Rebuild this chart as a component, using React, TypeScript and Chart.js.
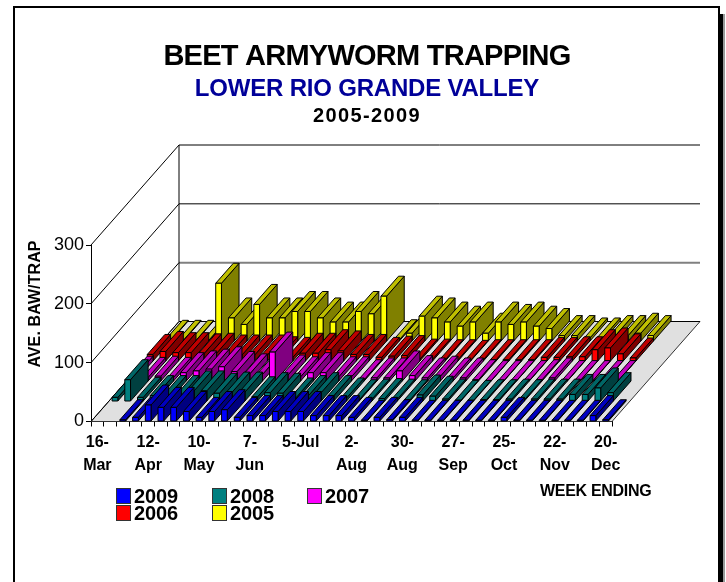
import React, { useEffect, useRef } from "react";
import { Chart, registerables } from "chart.js";

Chart.register(...registerables);

const FONT = '"Liberation Sans", Arial, sans-serif';

const tickLabels = ["16-Mar", "12-Apr", "10-May", "7-Jun", "5-Jul", "2-Aug", "30-Aug", "27-Sep", "25-Oct", "22-Nov", "20-Dec"];
const weekCount = 41;
const categories = Array.from({ length: weekCount }, (_, i) => (i % 4 === 0 ? tickLabels[i / 4] : ""));

const years = ["2009", "2008", "2007", "2006", "2005"];
const v2009 = [null, null, 3, 7, 28, 24, 24, 17, 7, 17, 20, 7, 10, 10, 17, 17, 17, 10, 10, 10, 7, 2, 7, 3, 7, 2, 2, 2, 2, 2, 2, 2, 7, 2, 2, 2, 2, 2, 2, 10, 3];
const v2008 = [7, 37, 7, 10, 10, 10, 18, 18, 14, 16, 16, 8, 15, 14, 6, 10, 15, 10, 6, 3, 4, 5, 4, 3, 11, 9, 4, 2, 2, 3, 3, 4, 3, 4, 4, 4, 12, 12, 23, 15, null];
const v2007 = [9, 7, 9, 7, 15, 18, 21, 25, 17, 13, 12, 50, 11, 8, 15, 15, 8, 8, 3, 6, 6, 18, 10, 6, 9, 6, 6, 3, 1.5, 1.5, 1.5, 1.5, 3, 6, 1.5, 1.5, 1.5, 1.5, 1.5, null, null];
const v2006 = [12, 17, 15, 15, 13, 14, 11, 11, 11, 11, 8, 7, 14, 14, 20, 18, 12, 12, 7, 9, 10, 4, 4, 3, 3, 2, 3, 3, 3, 3, 3, 7, 7, 8, 8, 20, 23, 13, 6, null, null];
const v2005 = [2, 2, 2, 2, 99, 40, 29, 63, 40, 40, 51, 51, 40, 33, 33, 51, 47, 77, 3, 14, 43, 40, 33, 26, 33, 14, 33, 29, 33, 26, 22, 10, 10, 6, 6, 10, 10, 14, 10, null, null];

const frontColors = ["#0000FF", "#008080", "#FF00FF", "#FF0000", "#FFFF00"];
const topColors = ["#0000C0", "#006666", "#C000C0", "#C00000", "#C0C000"];
const sideColors = ["#000080", "#004040", "#800080", "#800000", "#808000"];

const DEPTH_X = 88;
const DEPTH_Y = 100;
const ROWS = 5;

function poly(ctx: CanvasRenderingContext2D, pts: number[][], fill: string) {
  ctx.beginPath();
  pts.forEach((p, i) => (i ? ctx.lineTo(p[0], p[1]) : ctx.moveTo(p[0], p[1])));
  ctx.closePath();
  ctx.fillStyle = fill;
  ctx.fill();
  ctx.stroke();
}

function text(ctx: CanvasRenderingContext2D, s: string, x: number, y: number, font: string, color: string, align: CanvasTextAlign, spacing = 0) {
  ctx.font = font;
  ctx.fillStyle = color;
  ctx.textAlign = align;
  ctx.textBaseline = "middle";
  (ctx as any).letterSpacing = spacing + "px";
  ctx.fillText(s, x, y);
  (ctx as any).letterSpacing = "0px";
}

const box3d = {
  id: "box3d",
  beforeDatasetDraw(chart: any, args: any) {
    const ctx = chart.ctx;
    const row = args.index;
    const dx = DEPTH_X / ROWS;
    const dy = DEPTH_Y / ROWS;
    const values = chart.data.datasets[row].data;
    ctx.save();
    ctx.strokeStyle = "#000";
    ctx.lineWidth = 1;
    ctx.lineJoin = "round";
    args.meta.data.forEach((el: any, i: number) => {
      if (values[i] == null) return;
      const l = el.x - el.width / 2 + row * dx;
      const r = l + el.width;
      const t = el.y - row * dy;
      const b = el.base - row * dy;
      poly(ctx, [[r, t], [r + dx, t - dy], [r + dx, b - dy], [r, b]], sideColors[row]);
      poly(ctx, [[l, t], [l + dx, t - dy], [r + dx, t - dy], [r, t]], topColors[row]);
      poly(ctx, [[l, t], [r, t], [r, b], [l, b]], frontColors[row]);
    });
    ctx.restore();
    return false;
  },
};

const walls = {
  id: "walls",
  beforeDatasetsDraw(chart: any) {
    const ctx = chart.ctx;
    const { x: xs, y: ys } = chart.scales;
    const y0 = ys.getPixelForValue(0);
    const L = xs.left;
    const R = xs.right;
    ctx.save();
    ctx.lineWidth = 1;
    ctx.strokeStyle = "#333";
    ctx.fillStyle = "#E0E0E0";
    ctx.beginPath();
    ctx.moveTo(L, y0);
    ctx.lineTo(L + DEPTH_X, y0 - DEPTH_Y);
    ctx.lineTo(R + DEPTH_X, y0 - DEPTH_Y);
    ctx.lineTo(R, y0);
    ctx.closePath();
    ctx.fill();
    ctx.stroke();
    ys.ticks.forEach((t: any) => {
      const y = ys.getPixelForValue(t.value);
      ctx.strokeStyle = t.value === 100 ? "#808080" : "#000";
      ctx.lineWidth = t.value === 100 ? 2 : 1;
      ctx.beginPath();
      ctx.moveTo(L + DEPTH_X, y - DEPTH_Y);
      ctx.lineTo(R + DEPTH_X, y - DEPTH_Y);
      ctx.stroke();
      ctx.strokeStyle = "#000";
      ctx.lineWidth = 1;
      ctx.beginPath();
      ctx.moveTo(L, y);
      ctx.lineTo(L + DEPTH_X, y - DEPTH_Y);
      ctx.stroke();
    });
    ctx.strokeStyle = "#000";
    ctx.beginPath();
    ctx.moveTo(L + DEPTH_X, ys.top - DEPTH_Y);
    ctx.lineTo(L + DEPTH_X, y0 - DEPTH_Y);
    ctx.stroke();
    ctx.restore();
  },
};

const decor = {
  id: "decor",
  beforeDraw(chart: any) {
    const ctx = chart.ctx;
    ctx.save();
    ctx.fillStyle = "#fff";
    ctx.fillRect(0, 0, 726, 582);
    ctx.fillStyle = "#000";
    ctx.fillRect(13, 6, 706, 2);
    ctx.fillRect(13, 6, 2, 576);
    ctx.fillRect(718, 6, 2, 8);
    ctx.fillRect(718, 14, 5, 568);
    ctx.fillStyle = "#999";
    ctx.fillRect(723, 14, 2, 568);
    ctx.restore();
  },
  afterDraw(chart: any) {
    const ctx = chart.ctx;
    ctx.save();
    text(ctx, "BEET ARMYWORM TRAPPING", 367, 57, `bold 29px ${FONT}`, "#000", "center", -0.75);
    text(ctx, "LOWER RIO GRANDE VALLEY", 367, 89, `bold 24px ${FONT}`, "#000099", "center", -0.2);
    text(ctx, "2005-2009", 367, 116, `bold 20px ${FONT}`, "#000", "center", 1.4);
    text(ctx, "WEEK ENDING", 540, 492, `bold 16px ${FONT}`, "#000", "left", -0.3);
    ctx.save();
    ctx.translate(36, 304);
    ctx.rotate(-Math.PI / 2);
    text(ctx, "AVE. BAW/TRAP", 0, 0, `bold 16px ${FONT}`, "#000", "center", 0.1);
    ctx.restore();
    const slots = [[116, 496], [212, 496], [307, 496], [116, 513], [212, 513]];
    chart.data.datasets.forEach((ds: any, i: number) => {
      const [x, y] = slots[i];
      ctx.fillStyle = ds.backgroundColor;
      ctx.strokeStyle = "#333";
      ctx.lineWidth = 1;
      ctx.fillRect(x + 0.5, y - 7.5, 14, 15);
      ctx.strokeRect(x + 0.5, y - 7.5, 14, 15);
      text(ctx, ds.label, x + 18, y + 1, `bold 20px ${FONT}`, "#000", "left", -0.1);
    });
    ctx.restore();
  },
};

export default function App() {
  const ref = useRef<HTMLCanvasElement>(null);
  useEffect(() => {
    document.body.style.margin = "0";
    const series = [v2009, v2008, v2007, v2006, v2005];
    const chart = new Chart(ref.current as HTMLCanvasElement, {
      type: "bar",
      data: {
        labels: categories,
        datasets: years.map((y, i) => ({ label: y, data: series[i], backgroundColor: frontColors[i], grouped: false, barPercentage: 0.45, categoryPercentage: 1 })),
      },
      plugins: [decor, walls, box3d],
      options: {
        animation: false,
        responsive: false,
        layout: { padding: { left: 28, top: 245, right: 114, bottom: 59.5 } },
        plugins: { legend: { display: false }, title: { display: false }, tooltip: { enabled: false } },
        scales: {
          x: {
            afterFit: (s: any) => { s.height = 101; },
            grid: { drawOnChartArea: false, tickLength: 5, color: "#000", offset: true },
            border: { color: "#000" },
            ticks: {
              autoSkip: false,
              maxRotation: 0,
              padding: 5,
              color: "#000",
              font: { family: FONT, weight: "bold", size: 16, lineHeight: 1.44 },
              callback(_v: any, i: number) {
                const s = categories[i];
                if (!s) return "";
                return s === "5-Jul" ? s : [s.slice(0, s.indexOf("-") + 1), s.slice(s.indexOf("-") + 1)];
              },
            },
          },
          y: {
            min: 0,
            max: 300,
            afterFit: (s: any) => { s.width = 63; },
            grid: { drawOnChartArea: false, tickLength: 5, color: "#000" },
            border: { color: "#000" },
            ticks: { stepSize: 100, padding: 2, color: "#000", font: { family: FONT, size: 18 } },
          },
        },
      },
    } as any);
    return () => chart.destroy();
  }, []);
  return <canvas ref={ref} width={726} height={582} style={{ display: "block" }} />;
}
